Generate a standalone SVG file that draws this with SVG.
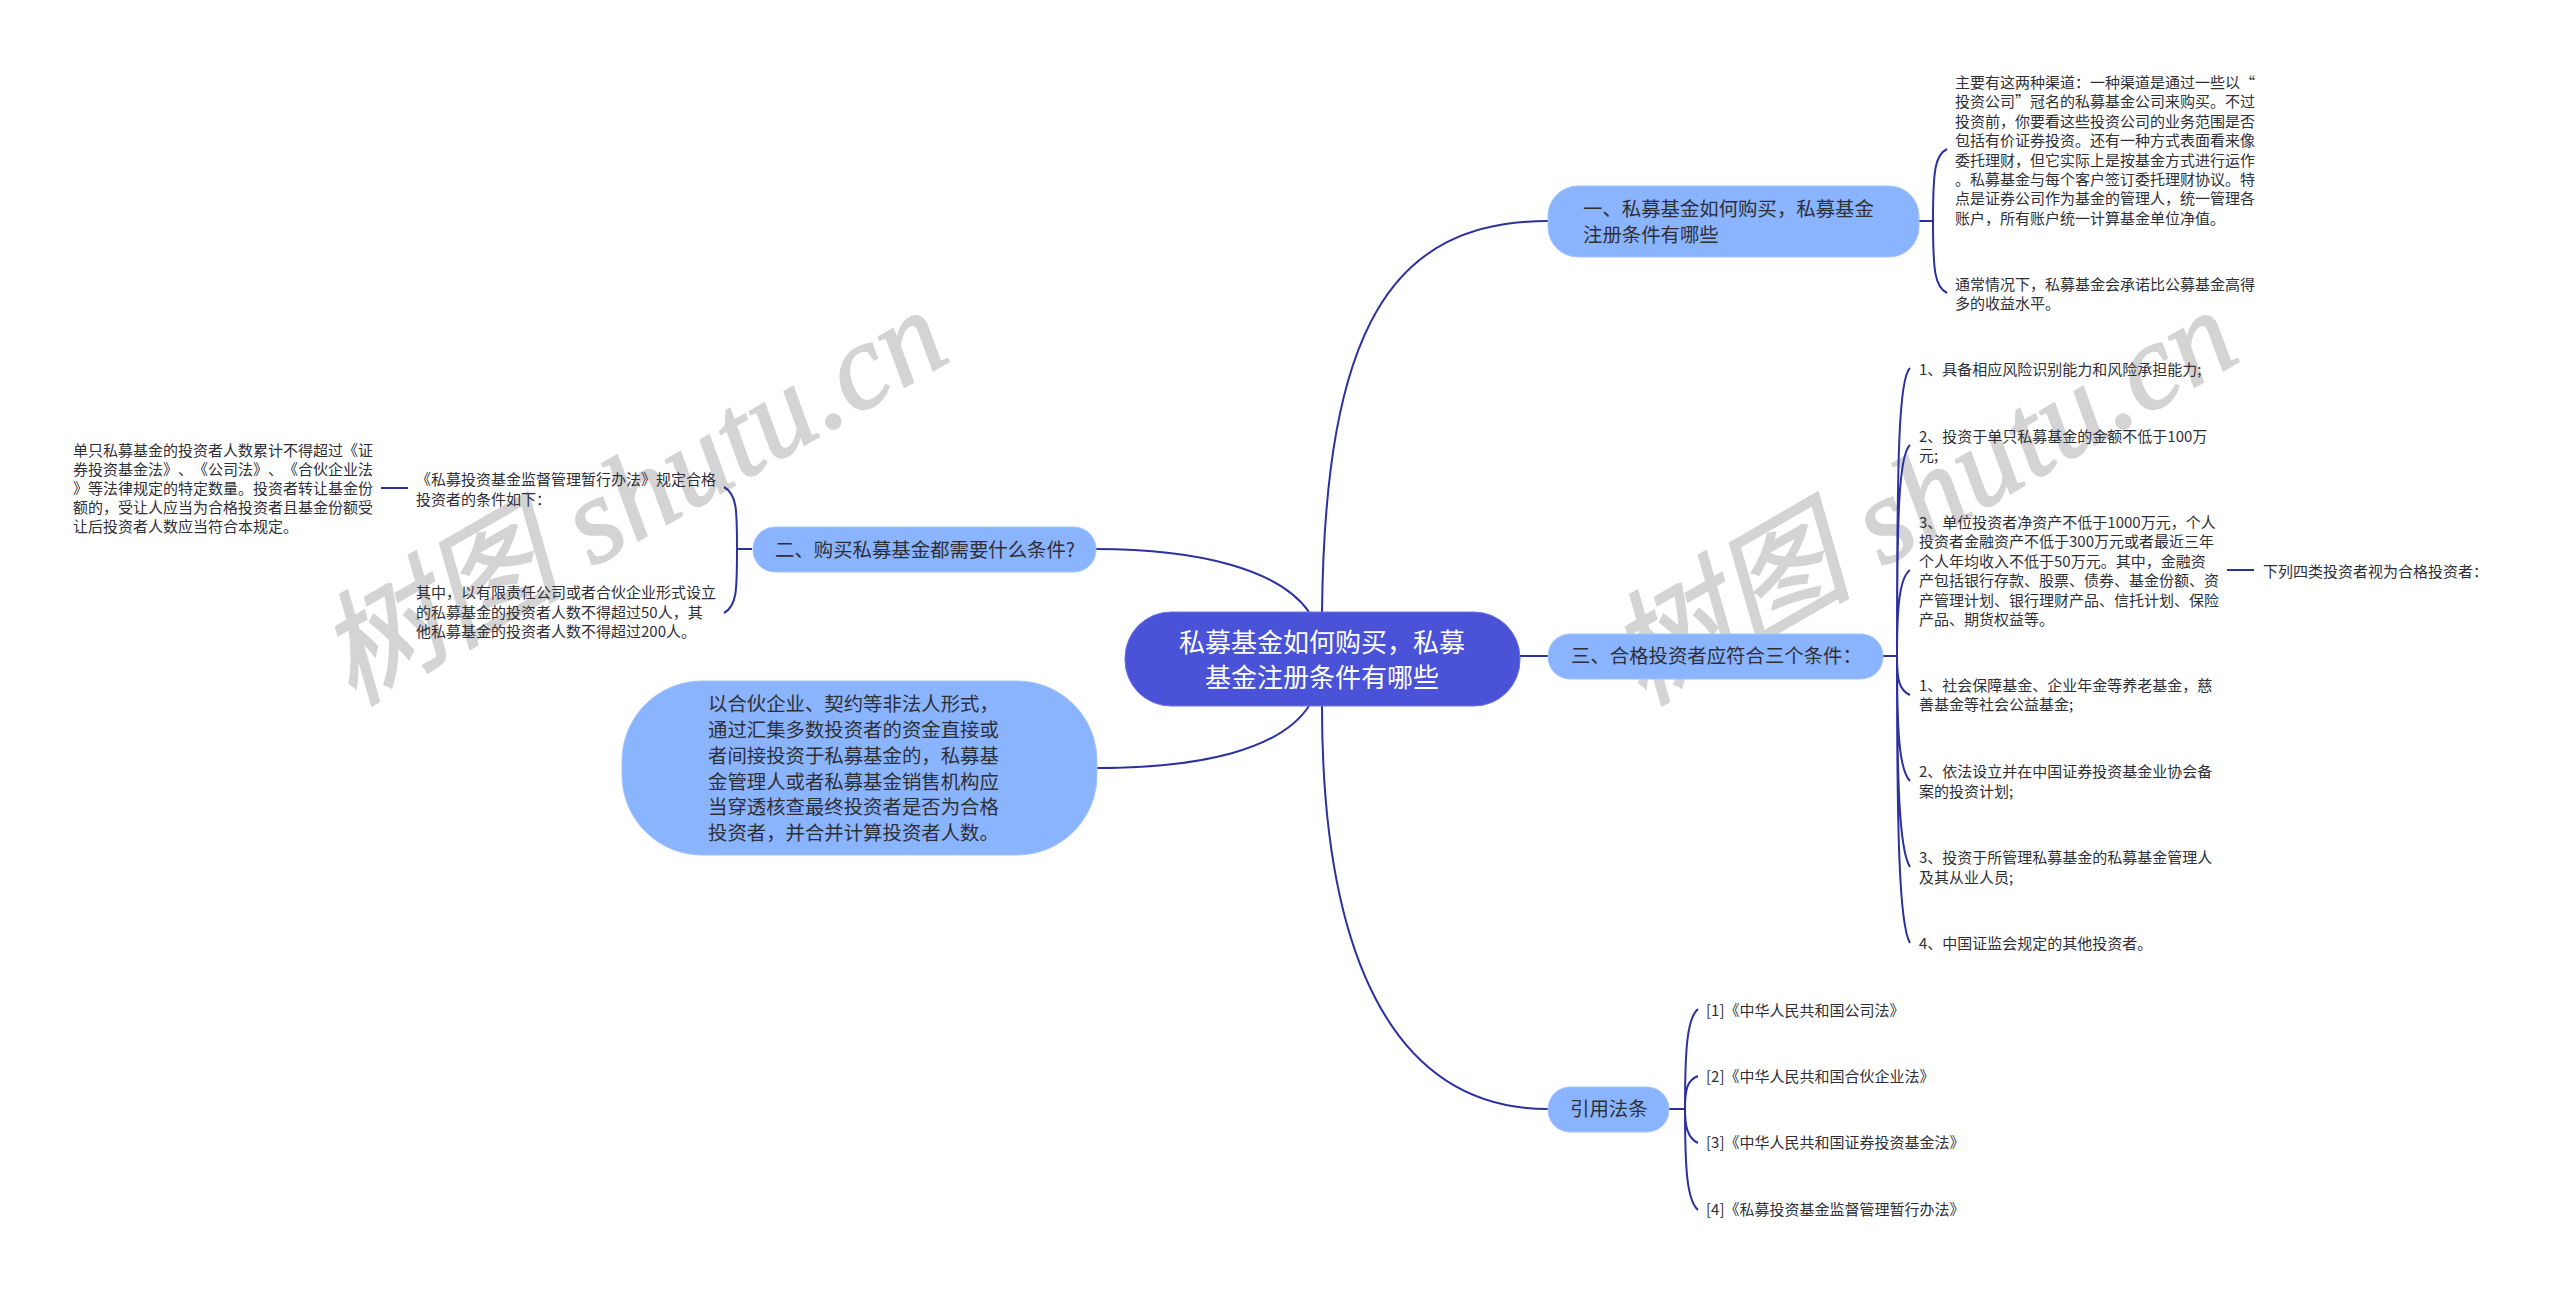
<svg xmlns="http://www.w3.org/2000/svg" width="2560" height="1291" viewBox="0 0 2560 1291">
<style>
text{font-family:"Noto Sans CJK SC","Liberation Sans",sans-serif;fill:#2f2f38;text-spacing-trim:space-all;font-feature-settings:"chws" 0}
.leaf{font-size:15px}
.n{font-size:19.4px}
.root{font-size:26px;fill:#fff;text-anchor:middle}
.b{fill:#8ab4fd;stroke:#a2c4fd;stroke-width:1}
.c{fill:none;stroke:#2c319f;stroke-width:2}
.wm{font-family:"Liberation Serif","Noto Sans CJK SC",serif;font-style:italic;font-size:122px;letter-spacing:1px;fill:#d4d4d4;stroke:#d4d4d4;stroke-width:2}
</style>
<rect width="2560" height="1291" fill="#fff"/>
<g id="watermarks">
<text class="wm" transform="translate(352 706) rotate(-30)">树图 shutu.cn</text>
<text class="wm" transform="translate(1642 706) rotate(-30)">树图 shutu.cn</text>
</g>
<g id="connectors">
<path class="c" d="M1322 612C1325 330 1390 221 1548 221"/>
<path class="c" d="M1096 549C1200 549 1280 570 1309 612"/>
<path class="c" d="M1097 768C1200 768 1280 750 1309 706"/>
<path class="c" d="M1520 656H1548"/>
<path class="c" d="M1322 706C1322 950 1390 1109 1548 1109"/>
<path class="c" d="M1919 221H1933M1933 221C1933 170 1935 155 1947 149M1933 221C1933 272 1935 287 1947 293"/>
<path class="c" d="M1883 656H1897M1897 656C1897 450 1899 378 1910 368M1897 656C1897 510 1899 455 1910 445M1897 656C1897 610 1899 578 1910 570M1897 656C1897 680 1899 690 1910 695M1897 656C1897 730 1899 770 1910 781M1897 656C1897 780 1899 850 1910 867M1897 656C1897 830 1899 925 1910 943"/>
<path class="c" d="M2227 570H2254"/>
<path class="c" d="M1669 1109H1685M1685 1109C1685 1050 1687 1018 1698 1009M1685 1109C1685 1090 1687 1080 1698 1076M1685 1109C1685 1125 1687 1138 1698 1143M1685 1109C1685 1170 1687 1200 1698 1210"/>
<path class="c" d="M752 549H737M737 549C737 510 737 494 724 487M737 549C737 590 737 606 724 613"/>
<path class="c" d="M408 488H381"/>
</g>
<g id="root"><rect x="1125" y="612" width="395" height="94" rx="46" fill="#4a52d8" stroke="#6a72e8"/>
<text class="root"><tspan x="1322" y="652">私募基金如何购买，私募</tspan><tspan x="1322" y="687">基金注册条件有哪些</tspan></text></g>
<g id="n1"><rect class="b" x="1548" y="186" width="371" height="71" rx="30"/>
<text class="n"><tspan x="1583" y="216">一、私募基金如何购买，私募基金</tspan><tspan x="1583" y="242">注册条件有哪些</tspan></text></g>
<g id="n2"><rect class="b" x="753" y="527" width="343" height="45" rx="22"/>
<text class="n" x="775" y="557">二、购买私募基金都需要什么条件?</text></g>
<g id="n3"><rect class="b" x="1548" y="634" width="335" height="45" rx="22"/>
<text class="n" x="1571" y="663">三、合格投资者应符合三个条件：</text></g>
<g id="n4"><rect class="b" x="1548" y="1087" width="121" height="45" rx="22"/>
<text class="n" x="1570" y="1116">引用法条</text></g>
<g id="n5"><rect class="b" x="622" y="681" width="475" height="174" rx="80"/>
<text class="n"><tspan x="708" y="711">以合伙企业、契约等非法人形式，</tspan><tspan x="708" y="737">通过汇集多数投资者的资金直接或</tspan><tspan x="708" y="763">者间接投资于私募基金的，私募基</tspan><tspan x="708" y="789">金管理人或者私募基金销售机构应</tspan><tspan x="708" y="814">当穿透核查最终投资者是否为合格</tspan><tspan x="708" y="840">投资者，并合并计算投资者人数。</tspan></text></g>
<g id="l1"><text class="leaf"><tspan x="1955" y="88">主要有这两种渠道：一种渠道是通过一些以“</tspan><tspan x="1955" y="107">投资公司”冠名的私募基金公司来购买。不过</tspan><tspan x="1955" y="127">投资前，你要看这些投资公司的业务范围是否</tspan><tspan x="1955" y="146">包括有价证券投资。还有一种方式表面看来像</tspan><tspan x="1955" y="166">委托理财，但它实际上是按基金方式进行运作</tspan><tspan x="1955" y="185">。私募基金与每个客户签订委托理财协议。特</tspan><tspan x="1955" y="204">点是证券公司作为基金的管理人，统一管理各</tspan><tspan x="1955" y="224">账户，所有账户统一计算基金单位净值。</tspan></text></g>
<g id="l2"><text class="leaf"><tspan x="1955" y="290">通常情况下，私募基金会承诺比公募基金高得</tspan><tspan x="1955" y="309">多的收益水平。</tspan></text></g>
<g id="l3"><text class="leaf" x="1919" y="375">1、具备相应风险识别能力和风险承担能力;</text></g>
<g id="l4"><text class="leaf"><tspan x="1919" y="442">2、投资于单只私募基金的金额不低于100万</tspan><tspan x="1919" y="461">元;</tspan></text></g>
<g id="l5"><text class="leaf"><tspan x="1919" y="528">3、单位投资者净资产不低于1000万元，个人</tspan><tspan x="1919" y="547">投资者金融资产不低于300万元或者最近三年</tspan><tspan x="1919" y="567">个人年均收入不低于50万元。其中，金融资</tspan><tspan x="1919" y="586">产包括银行存款、股票、债券、基金份额、资</tspan><tspan x="1919" y="606">产管理计划、银行理财产品、信托计划、保险</tspan><tspan x="1919" y="625">产品、期货权益等。</tspan></text></g>
<g id="l6"><text class="leaf" x="2263" y="577">下列四类投资者视为合格投资者：</text></g>
<g id="l7"><text class="leaf"><tspan x="1919" y="691">1、社会保障基金、企业年金等养老基金，慈</tspan><tspan x="1919" y="710">善基金等社会公益基金;</tspan></text></g>
<g id="l8"><text class="leaf"><tspan x="1919" y="777">2、依法设立并在中国证券投资基金业协会备</tspan><tspan x="1919" y="797">案的投资计划;</tspan></text></g>
<g id="l9"><text class="leaf"><tspan x="1919" y="863">3、投资于所管理私募基金的私募基金管理人</tspan><tspan x="1919" y="883">及其从业人员;</tspan></text></g>
<g id="l10"><text class="leaf" x="1919" y="949">4、中国证监会规定的其他投资者。</text></g>
<g id="r1"><text class="leaf" x="1706" y="1016">[1]《中华人民共和国公司法》</text></g>
<g id="r2"><text class="leaf" x="1706" y="1082">[2]《中华人民共和国合伙企业法》</text></g>
<g id="r3"><text class="leaf" x="1706" y="1148">[3]《中华人民共和国证券投资基金法》</text></g>
<g id="r4"><text class="leaf" x="1706" y="1215">[4]《私募投资基金监督管理暂行办法》</text></g>
<g id="l11"><text class="leaf"><tspan x="416" y="485">《私募投资基金监督管理暂行办法》规定合格</tspan><tspan x="416" y="505">投资者的条件如下：</tspan></text></g>
<g id="l12"><text class="leaf"><tspan x="416" y="598">其中，以有限责任公司或者合伙企业形式设立</tspan><tspan x="416" y="618">的私募基金的投资者人数不得超过50人，其</tspan><tspan x="416" y="637">他私募基金的投资者人数不得超过200人。</tspan></text></g>
<g id="l13"><text class="leaf"><tspan x="73" y="456">单只私募基金的投资者人数累计不得超过《证</tspan><tspan x="73" y="475">券投资基金法》、《公司法》、《合伙企业法</tspan><tspan x="73" y="494">》等法律规定的特定数量。投资者转让基金份</tspan><tspan x="73" y="513">额的，受让人应当为合格投资者且基金份额受</tspan><tspan x="73" y="532">让后投资者人数应当符合本规定。</tspan></text></g>
</svg>
